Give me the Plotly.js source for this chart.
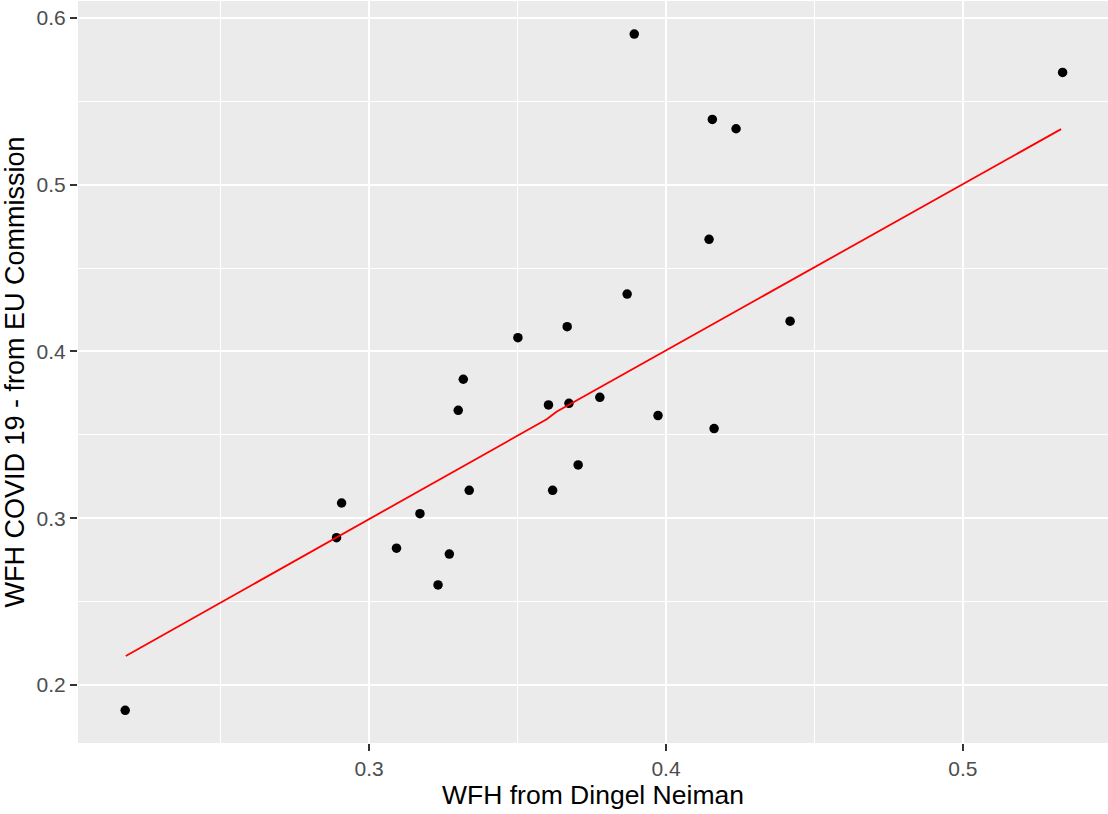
<!DOCTYPE html>
<html>
<head>
<meta charset="utf-8">
<script src="https://cdn.plot.ly/plotly-3.0.1.min.js"></script>
<style>
  html, body { margin: 0; padding: 0; background: #ffffff; }
  #chart { width: 1108px; height: 814px; }
</style>
</head>
<body>
<div id="chart"></div>
<script>
// Share of jobs that can be done from home, by country
const wfhDingelNeiman = [
  0.2178, 0.2890, 0.2907, 0.3092, 0.3171, 0.3232, 0.3270, 0.3300, 0.3317,
  0.3337, 0.3501, 0.3604, 0.3618, 0.3667, 0.3673, 0.3704, 0.3777, 0.3869,
  0.3893, 0.3973, 0.4145, 0.4156, 0.4162, 0.4236, 0.4418, 0.5336
];
const wfhEuCommission = [
  0.1848, 0.2883, 0.3091, 0.2820, 0.3027, 0.2600, 0.2785, 0.3647, 0.3833,
  0.3167, 0.4082, 0.3679, 0.3167, 0.4148, 0.3689, 0.3319, 0.3725, 0.4344,
  0.5903, 0.3615, 0.4672, 0.5391, 0.3537, 0.5335, 0.4181, 0.5673
];

// Fitted values of the regression line
const fitX = [0.2180, 0.3598, 0.3631, 0.5331];
const fitY = [0.2174, 0.3593, 0.3638, 0.5333];

const xTickVals = [0.3, 0.4, 0.5];
const xTickText = ['0.3', '0.4', '0.5'];
const yTickVals = [0.2, 0.3, 0.4, 0.5, 0.6];
const yTickText = ['0.2', '0.3', '0.4', '0.5', '0.6'];

const FONT = 'Liberation Sans, Arial, sans-serif';

const traces = [
  {
    type: 'scatter',
    mode: 'markers',
    x: wfhDingelNeiman,
    y: wfhEuCommission,
    marker: { color: '#000000', size: 9.5 },
    hoverinfo: 'x+y',
    showlegend: false
  },
  {
    type: 'scatter',
    mode: 'lines',
    x: fitX,
    y: fitY,
    line: { color: '#FF0000', width: 1.8 },
    hoverinfo: 'skip',
    showlegend: false
  }
];

const axisCommon = {
  showgrid: true,
  gridcolor: '#FFFFFF',
  gridwidth: 2,
  zeroline: false,
  showline: false,
  ticks: 'outside',
  ticklen: 7,
  tickwidth: 1.5,
  tickcolor: '#333333',
  tickfont: { family: FONT, size: 21, color: '#4D4D4D' },
  minor: { dtick: 0.05, tick0: 0, showgrid: true, gridcolor: '#FFFFFF', gridwidth: 1, ticks: '' }
};

const layout = {
  width: 1108,
  height: 814,
  margin: { l: 78, r: 0, t: 1, b: 71, pad: 0 },
  paper_bgcolor: '#FFFFFF',
  plot_bgcolor: '#EBEBEB',
  font: { family: FONT },
  xaxis: Object.assign({}, axisCommon, {
    range: [0.2019, 0.5489],
    tickmode: 'array',
    tickvals: xTickVals,
    ticktext: xTickText,
    title: { text: 'WFH from Dingel Neiman', font: { family: FONT, size: 26.5, color: '#000000' }, standoff: 4 }
  }),
  yaxis: Object.assign({}, axisCommon, {
    range: [0.1652, 0.6101],
    tickmode: 'array',
    tickvals: yTickVals,
    ticktext: yTickText,
    title: { text: 'WFH COVID 19 - from EU Commission', font: { family: FONT, size: 27, color: '#000000' }, standoff: 6 }
  })
};

Plotly.newPlot('chart', traces, layout, { displayModeBar: false, responsive: false });
</script>
</body>
</html>
